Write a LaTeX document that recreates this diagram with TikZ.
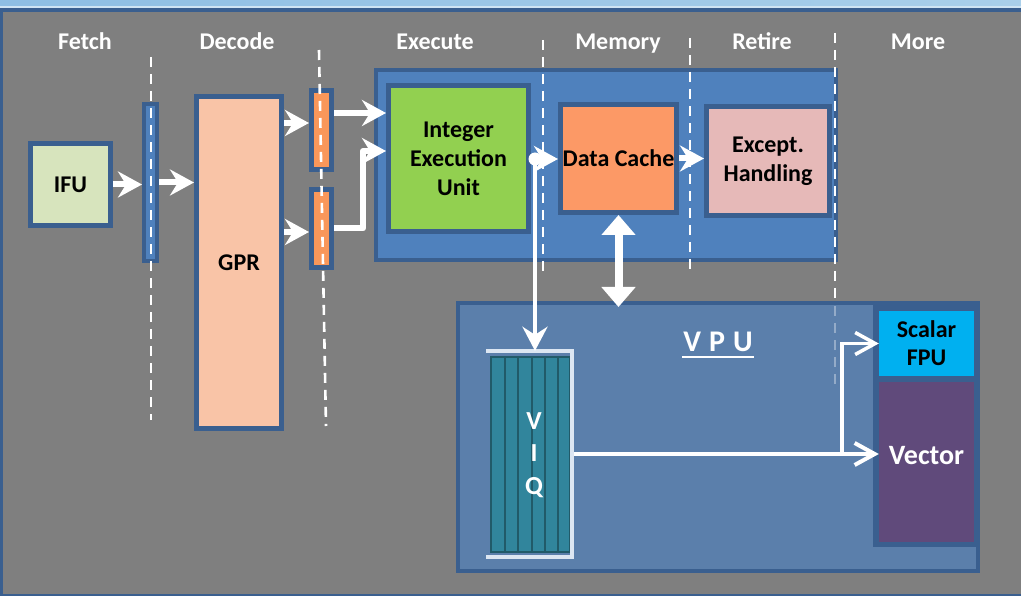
\documentclass[tikz,border=0pt]{standalone}
\usepackage{fontspec}
\setmainfont{Carlito}
\usetikzlibrary{arrows.meta}
\definecolor{bgray}{HTML}{7F7F7F}
\definecolor{frame}{HTML}{3A5F8F}
\definecolor{exeblue}{HTML}{4F81BD}
\definecolor{vpublue}{HTML}{5B7FAB}
\definecolor{ifugreen}{HTML}{D7E4BD}
\definecolor{gprpeach}{HTML}{F9C4A7}
\definecolor{latchorange}{HTML}{F9975A}
\definecolor{ieugreen}{HTML}{92D050}
\definecolor{dcorange}{HTML}{FC9966}
\definecolor{excpink}{HTML}{E6B9B8}
\definecolor{fpucyan}{HTML}{00B0F0}
\definecolor{vecpurple}{HTML}{604A7B}
\definecolor{viqteal}{HTML}{31859C}
\definecolor{viqline}{HTML}{215A69}
\definecolor{bracket}{HTML}{DCE6F2}
\definecolor{skyband}{HTML}{8EBEE3}
\definecolor{skylight}{HTML}{A9CFEA}
\definecolor{skyline}{HTML}{CFE4F3}

\begin{document}
\begin{tikzpicture}[x=1pt,y=-1pt,
  box/.style={draw=frame, line width=5pt, inner sep=0pt, align=center,
    font=\fontsize{24}{29}\selectfont\bfseries, text=black},
  panel/.style={inner sep=0pt, align=center, font=\fontsize{24}{28}\selectfont\bfseries},
  stage/.style={text=white, font=\fontsize{24}{28}\selectfont\bfseries, inner sep=0pt, anchor=base},
  divider/.style={white, line width=2.6pt, dash pattern=on 10pt off 7pt},
  arr/.style={white, line width=6pt, -{Stealth[length=24pt,width=26pt,inset=8pt]}},
  thinarr/.style={white, line width=4pt, line join=miter, -{Straight Barb[length=20pt,width=22pt]}},
  ]
\useasboundingbox (0,0) rectangle (1021,596);
% slide background and frame
\fill[bgray] (0,0) rectangle (1021,596);
\shade[left color=skyband, right color=skylight] (0,0) rectangle (1021,8);
\draw[skyline, line width=1.2pt] (0,7) -- (1021,7);
\fill[frame] (0,8) rectangle (1021,12.5);
\fill[frame] (0,12) rectangle (3,596);
\fill[frame] (0,594) rectangle (1021,596);

% pipeline stage titles
\node[stage] (sfetch)  at (85,50)  {Fetch};
\node[stage] (sdecode) at (237,50) {Decode};
\node[stage] (sexec)   at (435,50) {Execute};
\node[stage] (smem)    at (618,50) {Memory};
\node[stage] (sret)    at (762,50) {Retire};
\node[stage] (smore)   at (918,50) {More};

% front end
\node[box, line width=4.5pt, fill=ifugreen, minimum width=80pt, minimum height=82pt] (ifu) at (70.5,184.5) {IFU};
\node[box, line width=4pt, fill=exeblue, minimum width=13pt, minimum height=157pt] (l1) at (150.5,182.5) {};
\node[box, fill=gprpeach, minimum width=85pt, minimum height=332pt] (gpr) at (239,262.5) {GPR};
\node[box, fill=latchorange, minimum width=20pt, minimum height=79pt] (l2a) at (321.5,130) {};
\node[box, fill=latchorange, minimum width=20pt, minimum height=78pt] (l2b) at (321.5,228.5) {};

% execute / memory / retire block
\node[box, line width=4pt, fill=exeblue, minimum width=460pt, minimum height=190pt] (exe) at (606,165) {};
\node[box, fill=ieugreen, minimum width=140pt, minimum height=146pt] (ieu) at (458.5,158.5) {Integer\\Execution\\Unit};
\node[box, fill=dcorange, minimum width=116pt, minimum height=108pt] (dc) at (618.5,158.5) {Data Cache};
\node[box, fill=excpink, minimum width=123pt, minimum height=109pt] (exc) at (768,161) {Except.\\Handling};

% vector unit
\node[box, line width=4pt, fill=vpublue, minimum width=520pt, minimum height=268pt] (vpu) at (718,437) {};
\fill[frame] (873,305) rectangle (979,547);
\node[panel, fill=fpucyan, minimum width=95pt, minimum height=65pt] (fpu) at (926.5,343.5) {Scalar\\FPU};
\node[panel, fill=vecpurple, minimum width=95pt, minimum height=160pt] (vec) at (926.5,462) {};
\node[panel, text=white, font=\fontsize{28}{32}\selectfont\bfseries] (vectxt) at ([yshift=6pt]vec.center) {Vector};

\node[text=white, inner sep=0pt, font=\fontsize{30}{36}\selectfont\bfseries] (vpulabel) at (718,342) {V\hspace{8pt}P\hspace{8pt}U};
\draw[white, line width=2.5pt] (682,357) -- (754,357);

% instruction queue
\fill[viqteal] (491,357) rectangle (570,552);
\foreach \x in {505,518,532,545,558} \draw[viqline, line width=1.2pt] (\x,357) -- (\x,552);
\draw[viqline, line width=1.2pt] (491,357) rectangle (570,552);
\draw[bracket, line width=4pt] (486,351) -- (572,351) -- (572,557) -- (486,557);
\node[inner sep=0pt, minimum width=88pt, minimum height=206pt] (viq) at (530,454) {};
\node[text=white, inner sep=0pt, align=center, font=\fontsize{26}{32.5}\selectfont\bfseries] (viqtxt) at (534,455) {V\\I\\Q};

% stage boundaries
\draw[divider] (151,57) -- (151,420);
\draw[divider] (319,50) -- (326,426);
\draw[divider] (543,40) -- (543,274);
\draw[divider] (690,38) -- (690,274);
\draw[divider] (835,33) -- (835,301);
\draw[divider, opacity=0.35] (835,306) -- (835,386);

% data flow
\draw[arr] (ifu.east) -- (ifu.east -| l1.west);
\draw[arr] (l1.east) -- (l1.east -| gpr.west);
\draw[arr] (gpr.east |- 0,123) -- (l2a.west |- 0,123);
\draw[arr] (gpr.east |- 0,232) -- (l2b.west |- 0,232);
\draw[arr] (l2a.east |- 0,113) -- (ieu.west |- 0,113);
\coordinate (bend) at (363,151);
\draw[arr, line join=round] (l2b.east) -| (bend) -- (bend -| ieu.west);
\coordinate (split) at (535,159);
\draw[arr] (ieu.east |- split) -- (split -| dc.west);
\draw[white, line width=4pt, -{Stealth[length=24pt,width=25pt,inset=8pt]}] (split) -- (split |- viq.north);
\fill[white] (split) circle (6.5pt);
\draw[arr] (dc.east) -- (dc.east -| exc.west);
\draw[white, line width=8pt, {Triangle[length=20pt,width=33pt]}-{Triangle[length=20pt,width=33pt]}] (dc.south) -- ([yshift=-6pt]dc.south |- vpu.north);
\draw[thinarr] (viq.east) -- (viq.east -| vec.west);
\coordinate (fork) at (842,454);
\draw[thinarr, line width=3.5pt] (fork) |- (fpu.west);
\end{tikzpicture}
\end{document}
